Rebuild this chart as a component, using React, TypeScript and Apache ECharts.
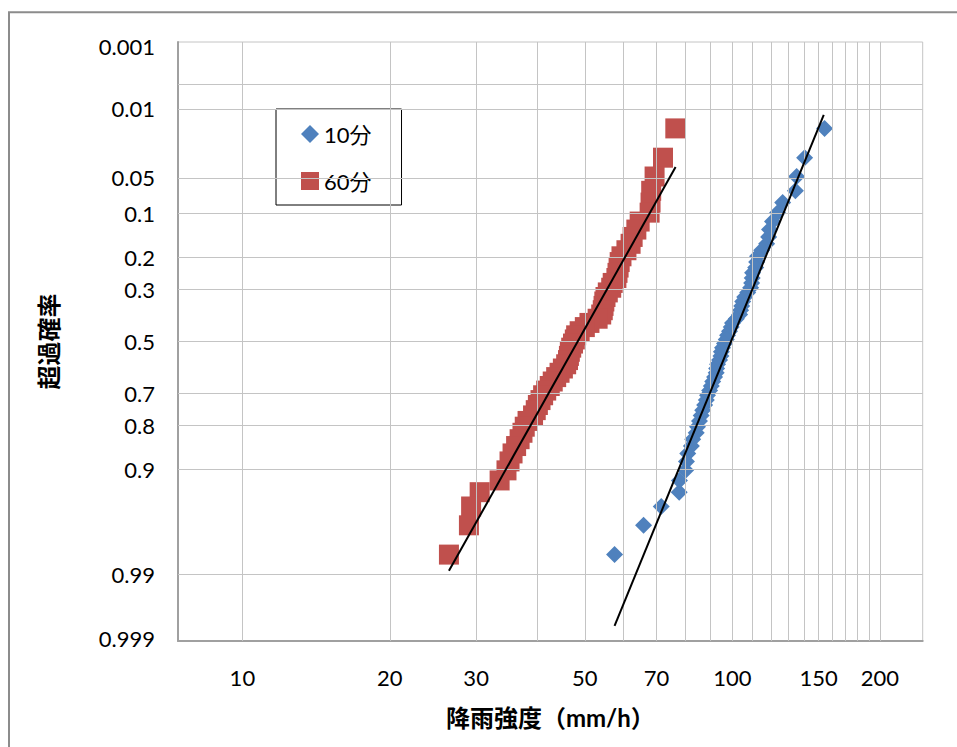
import { useEffect, useRef } from 'react';
import * as echarts from 'echarts';

// Exceedance probability (plotting position) of each ranked value, largest first
const exceedanceProb = [
  0.0164, 0.0328, 0.0492, 0.0656, 0.0820, 0.0984, 0.1148, 0.1311, 0.1475, 0.1639,
  0.1803, 0.1967, 0.2131, 0.2295, 0.2459, 0.2623, 0.2787, 0.2951, 0.3115, 0.3279,
  0.3443, 0.3607, 0.3770, 0.3934, 0.4098, 0.4262, 0.4426, 0.4590, 0.4754, 0.4918,
  0.5082, 0.5246, 0.5410, 0.5574, 0.5738, 0.5902, 0.6066, 0.6230, 0.6393, 0.6557,
  0.6721, 0.6885, 0.7049, 0.7213, 0.7377, 0.7541, 0.7705, 0.7869, 0.8033, 0.8197,
  0.8361, 0.8525, 0.8689, 0.8852, 0.9016, 0.9180, 0.9344, 0.9508, 0.9672, 0.9836,
];

// 10-minute rainfall intensity (mm/h), ranked
const rain10min = [
  154.3, 140.5, 135.3, 134.5, 126.7, 123.7, 120.8, 119.1, 118.6, 117.5,
  114.8, 112.6, 112.1, 111.6, 110.0, 109.8, 109.5, 109.0, 107.5, 106.0,
  105.0, 104.5, 104.0, 103.5, 101.9, 100.1, 99.5, 98.7, 97.8, 97.2,
  96.4, 95.5, 95.0, 94.8, 94.2, 93.3, 92.9, 92.7, 92.0, 91.2,
  90.6, 89.9, 89.0, 88.5, 87.8, 87.0, 86.4, 85.7, 84.9, 84.4,
  83.0, 82.5, 81.1, 80.6, 80.3, 78.0, 77.9, 71.6, 65.9, 57.5,
];

// 60-minute rainfall intensity (mm/h), ranked
const rain60min = [
  76.5, 72.2, 69.4, 68.3, 68.1, 67.8, 64.7, 63.7, 62.6, 62.0,
  60.8, 59.4, 58.9, 58.6, 58.3, 58.0, 57.0, 56.6, 55.7, 55.1,
  54.8, 54.6, 54.4, 54.0, 53.1, 51.1, 50.0, 48.8, 48.0, 47.7,
  47.3, 46.9, 46.6, 46.4, 46.2, 45.8, 45.1, 44.4, 43.7, 43.0,
  42.4, 41.7, 41.1, 40.6, 40.1, 39.7, 39.2, 38.2, 37.7, 37.3,
  36.8, 36.2, 35.6, 35.1, 34.6, 33.5, 30.5, 29.3, 29.0, 26.4,
];

// Fitted lines: [intensity, exceedance probability] end points
const fit10min = [[57.5, 0.9978], [153.7, 0.0116]];
const fit60min = [[26.4, 0.9892], [76.6, 0.0403]];

const seriesNames = ['10分', '60分'];

// X axis
const xLabelValues = [10, 20, 30, 50, 70, 100, 150, 200];
const xGridValues = [10, 20, 30, 40, 50, 60, 70, 80, 90, 100, 110, 120, 130, 140, 150, 160, 170, 180, 190, 200];

// Y axis (exceedance probability)
const yLabelProbs = ['0.001', '0.01', '0.05', '0.1', '0.2', '0.3', '0.5', '0.7', '0.8', '0.9', '0.99', '0.999'];
const yGridProbs = ['0.005', '0.01', '0.05', '0.1', '0.2', '0.3', '0.5', '0.7', '0.8', '0.9', '0.99'];

const xTitle = '降雨強度（mm/h）';
const yTitle = '超過確率';

// Inverse standard normal CDF (Acklam) – probability-paper axis transform
function normInv(p: number): number {
  const a = [-3.969683028665376e1, 2.209460984245205e2, -2.759285104469687e2, 1.38357751867269e2, -3.066479806614716e1, 2.506628277459239];
  const b = [-5.447609879822406e1, 1.615858368580409e2, -1.556989798598866e2, 6.680131188771972e1, -1.328068155288572e1];
  const c = [-7.784894002430293e-3, -3.223964580411365e-1, -2.400758277161838, -2.549732539343734, 4.374664141464968, 2.938163982698783];
  const d = [7.784695709041462e-3, 3.224671290700398e-1, 2.445134137142996, 3.754408661907416];
  const plow = 0.02425;
  if (p < plow) {
    const q = Math.sqrt(-2 * Math.log(p));
    return (((((c[0] * q + c[1]) * q + c[2]) * q + c[3]) * q + c[4]) * q + c[5]) / ((((d[0] * q + d[1]) * q + d[2]) * q + d[3]) * q + 1);
  }
  if (p > 1 - plow) {
    const q = Math.sqrt(-2 * Math.log(1 - p));
    return -(((((c[0] * q + c[1]) * q + c[2]) * q + c[3]) * q + c[4]) * q + c[5]) / ((((d[0] * q + d[1]) * q + d[2]) * q + d[3]) * q + 1);
  }
  const q = p - 0.5;
  const r = q * q;
  return ((((((a[0] * r + a[1]) * r + a[2]) * r + a[3]) * r + a[4]) * r + a[5]) * q) / (((((b[0] * r + b[1]) * r + b[2]) * r + b[3]) * r + b[4]) * r + 1);
}
// exceedance probability -> reduced variate (top = small probability)
const zOf = (p: number) => -normInv(p);

const Z_MAX = 3;
const FONT = 'Lato, "Noto Sans CJK JP", sans-serif';
const GRID_COLOR = '#c4c4c4';
const AXIS_COLOR = '#a0a0a0';

export default function App() {
  const ref = useRef<HTMLDivElement>(null);

  useEffect(() => {
    if (!ref.current) return;
    const chart = echarts.init(ref.current, undefined, { renderer: 'svg' });

    const labelBase = { show: true, color: '#000', fontSize: 22, fontFamily: FONT };

    const xMarks = xGridValues.map((v) => ({
      xAxis: v,
      lineStyle: { color: GRID_COLOR, width: 1, type: 'solid' },
      label: xLabelValues.includes(v)
        ? { ...labelBase, position: 'start', distance: 25, formatter: String(v) }
        : { show: false },
    }));

    // horizontal grid lines, labelled where the reference has a tick label
    const yLines = yGridProbs.map((s) => ({
      yAxis: zOf(parseFloat(s)),
      lineStyle: { color: GRID_COLOR, width: 1, type: 'solid' },
      label: yLabelProbs.includes(s)
        ? { ...labelBase, position: 'start', distance: 23, formatter: s }
        : { show: false },
    }));

    // labels that fall outside the plotted range sit just inside the plot edges
    const yEdgeLabels = yLabelProbs
      .filter((s) => Math.abs(zOf(parseFloat(s))) > Z_MAX)
      .map((s) => {
        const z = zOf(parseFloat(s));
        return {
          yAxis: z > 0 ? Z_MAX - 0.05 : -(Z_MAX - 0.03),
          lineStyle: { color: 'rgba(0,0,0,0)', width: 1, type: 'solid' },
          label: { ...labelBase, position: 'start', distance: 23, formatter: s },
        };
      });

    const toPoints = (vals: number[]) => vals.map((v, i) => [v, zOf(exceedanceProb[i])]);
    const toLine = (pts: number[][]) => pts.map(([v, p]) => [v, zOf(p)]);

    const option = {
      animation: false,
      backgroundColor: '#ffffff',
      textStyle: { fontFamily: FONT },
      grid: {
        left: 178,
        right: 34.3,
        top: 42,
        bottom: 106,
        show: true,
        borderColor: GRID_COLOR,
        borderWidth: 1,
      },
      xAxis: {
        type: 'log',
        logBase: Math.E,
        min: Math.exp(2),
        max: Math.exp(5.5),
        axisLabel: { show: false },
        axisTick: { show: false },
        splitLine: { show: false },
        minorSplitLine: { show: false },
        axisLine: { show: true, onZero: false, lineStyle: { color: AXIS_COLOR, width: 2 } },
        name: xTitle,
        nameLocation: 'middle',
        nameGap: 64,
        nameTextStyle: { fontSize: 24, fontWeight: 'bold', color: '#000', fontFamily: FONT },
      },
      yAxis: {
        type: 'value',
        min: -Z_MAX,
        max: Z_MAX,
        axisLabel: { show: false },
        axisTick: { show: false },
        splitLine: { show: false },
        axisLine: { show: true, onZero: false, lineStyle: { color: AXIS_COLOR, width: 2 } },
        name: yTitle,
        nameLocation: 'middle',
        nameGap: 118,
        nameTextStyle: { fontSize: 24, fontWeight: 'bold', color: '#000', fontFamily: FONT },
      },
      legend: {
        orient: 'vertical',
        left: 276,
        top: 109,
        padding: [14, 30, 13, 25],
        itemGap: 25,
        itemWidth: 18,
        itemHeight: 18,
        borderColor: '#000',
        borderWidth: 1,
        backgroundColor: '#ffffff',
        selectedMode: false,
        textStyle: { fontSize: 22, lineHeight: 22, color: '#000', fontFamily: FONT },
        data: [
          { name: seriesNames[0], icon: 'diamond' },
          { name: seriesNames[1], icon: 'rect' },
        ],
      },
      series: [
        {
          type: 'line',
          name: 'grid',
          data: [],
          silent: true,
          z: 1,
          markLine: {
            silent: true,
            symbol: ['none', 'none'],
            animation: false,
            data: [...xMarks, ...yLines, ...yEdgeLabels],
          },
        },
        {
          name: seriesNames[0],
          type: 'scatter',
          symbol: 'diamond',
          symbolSize: 17,
          itemStyle: { color: '#4f81bd', opacity: 1 },
          z: 3,
          data: toPoints(rain10min),
        },
        {
          name: seriesNames[1],
          type: 'scatter',
          symbol: 'rect',
          symbolSize: 20,
          itemStyle: { color: '#c0504d', opacity: 1 },
          z: 4,
          data: toPoints(rain60min),
        },
        {
          name: 'fit10',
          type: 'line',
          showSymbol: false,
          silent: true,
          lineStyle: { color: '#000', width: 2 },
          z: 5,
          data: toLine(fit10min),
        },
        {
          name: 'fit60',
          type: 'line',
          showSymbol: false,
          silent: true,
          lineStyle: { color: '#000', width: 2 },
          z: 5,
          data: toLine(fit60min),
        },
      ],
      graphic: [
        {
          type: 'rect',
          shape: { x: 9, y: 12.3, width: 1200, height: 1000 },
          style: { fill: 'none', stroke: '#8c8c8c', lineWidth: 2 },
          silent: true,
          z: 0,
        },
      ],
    };

    chart.setOption(option as any);
    return () => chart.dispose();
  }, []);

  return <div ref={ref} style={{ position: 'absolute', left: 0, top: 0, width: 957, height: 747 }} />;
}
